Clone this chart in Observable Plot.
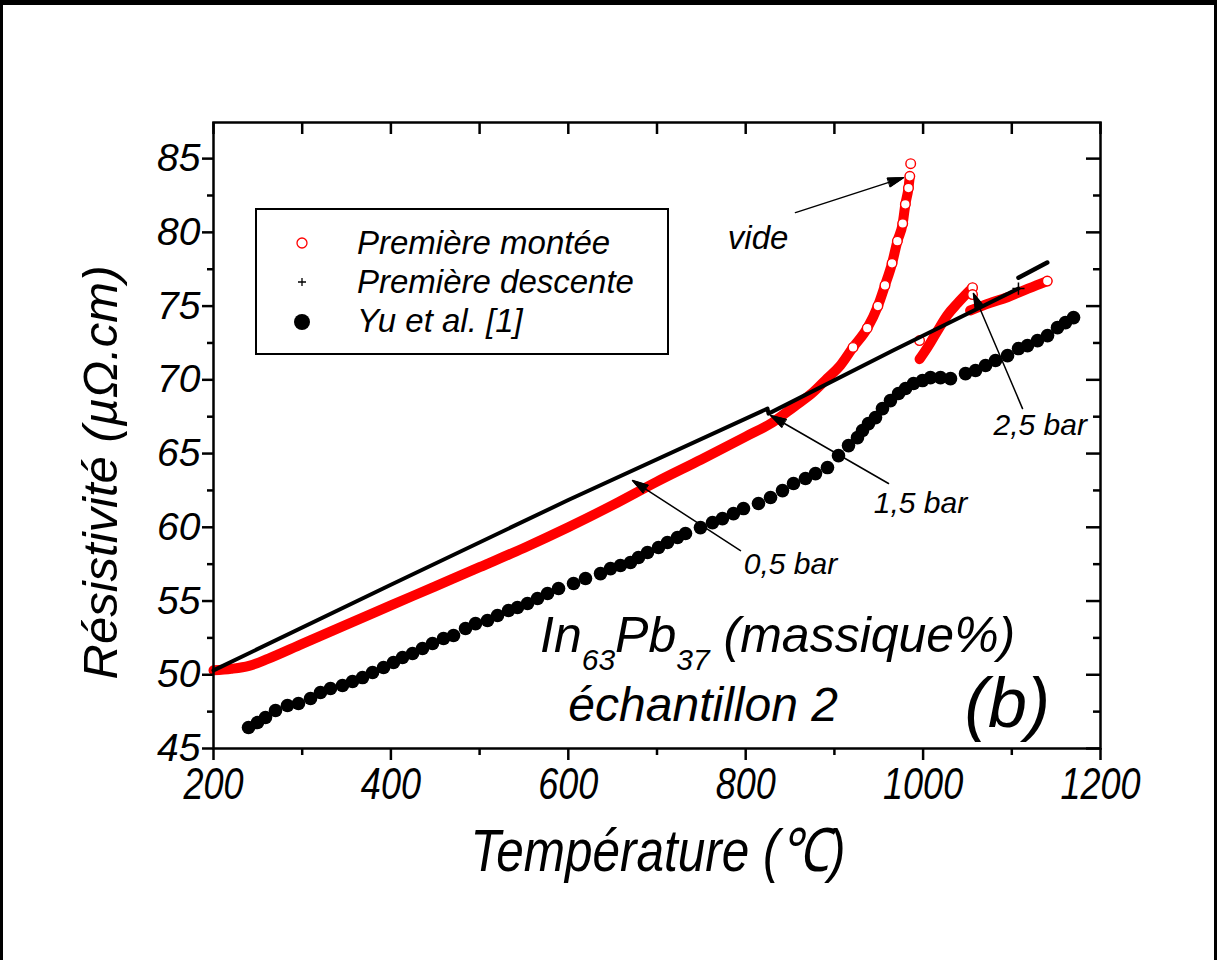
<!DOCTYPE html>
<html><head><meta charset="utf-8">
<script src="https://cdn.jsdelivr.net/npm/d3@7"></script>
<script src="https://cdn.jsdelivr.net/npm/@observablehq/plot@0.6"></script>
<style>
html,body{margin:0;padding:0;background:#fff;}
#wrap{position:relative;width:1217px;height:960px;overflow:hidden;background:#fff;}
#chart svg{display:block;}
#border{position:absolute;left:0;top:0;width:1217px;height:960px;box-sizing:border-box;border-top:5px solid #000;border-left:3px solid #000;border-right:3px solid #000;pointer-events:none;}
#legend{position:absolute;left:255px;top:208px;width:414px;height:147px;box-sizing:border-box;border:2px solid #000;background:#fff;}
</style></head><body>
<div id="wrap"><div id="chart"></div><div id="legend"></div><div id="border"></div></div>
<script>
// ---- data (Température °C, Résistivité µΩ.cm) ----
const seriesNames = ["Première montée", "Première descente", "Yu et al. [1]"];

// Première montée : three branches (0.5 bar -> vide, 1.5 bar, 2.5 bar)
const monteeBranch1 = [[200,50.3],[220,50.4],[240,50.6],[262,51.1],[300,52.1],[350,53.4],[400,54.7],[450,56.0],[500,57.3],[550,58.6],[600,60.0],[650,61.5],[700,63.1],[750,64.6],[800,66.15],[830,67.1],[855,68.2],[875,69.1],[892,70.1],[907,71.0],[921,72.2],[937,73.5],[949,75.0],[957,76.4],[965,77.9],[971,79.4],[977,80.6],[980,81.9],[983.5,83.0],[985,83.8]];
const monteeBranch2 = [[996,71.4],[1005,72.2],[1016,73.3],[1027.5,74.4],[1039,75.2],[1050,75.9],[1055.7,76.25]];
const monteeBranch3 = [[1053,74.7],[1075,75.2],[1095,75.6],[1115,76.1],[1132,76.5],[1140,76.7]];
const monteeRings = [[921,72.2],[937,73.5],[949,75.0],[957,76.4],[965,77.9],[971,79.4],[977,80.6],[980,81.9],[983.5,83.0],[985,83.8],[986,84.66],[996,72.66],[1055.7,76.25],[1055.7,75.78],[1140,76.7]];

// Première descente
const descente = [[200,50.3],[400,56.1],[600,61.85],[824.6,68.05],[825.7,67.71],[966.6,72.0],[1107.5,76.19]];
const descenteDash = [[1107.5,76.93],[1140,77.95]];

// Yu et al. [1]
const yuT = [239.5,249.6,258.6,269.9,283.4,295.8,309.4,320.6,331.9,345.4,356.7,368.0,379.3,391.7,402.9,413.1,424.4,435.6,446.9,459.3,470.6,484.1,495.4,508.9,520.2,532.6,542.7,554.0,565.3,576.6,589.0,605.9,619.4,636.3,647.6,658.8,670.1,679.1,689.3,701.7,711.8,723.1,732.1,749.0,762.6,773.8,786.2,797.5,814.4,828.0,841.5,853.9,867.4,878.7,892.2,904.6,915.9,926.0,931.7,938.4,946.3,954.2,963.2,972.3,980.2,989.2,999.3,1008.3,1019.6,1030.9,1047.8,1059.1,1070.4,1081.6,1095.2,1107.6,1117.7,1129.0,1140.3,1151.5,1160.5,1169.6];
const yuR = [46.42,46.76,47.10,47.58,47.92,48.05,48.39,48.80,49.07,49.27,49.54,49.81,50.15,50.49,50.83,51.17,51.44,51.78,52.12,52.46,52.66,53.14,53.47,53.68,54.02,54.36,54.56,54.83,55.17,55.51,55.85,56.19,56.53,56.86,57.20,57.41,57.61,57.95,58.29,58.63,58.97,59.31,59.58,59.98,60.32,60.59,60.93,61.27,61.61,62.02,62.49,62.97,63.31,63.64,64.05,64.86,65.54,66.08,66.56,67.03,67.44,68.05,68.59,69.07,69.41,69.75,69.95,70.15,70.15,70.08,70.42,70.63,70.97,71.31,71.64,72.12,72.32,72.66,73.0,73.54,73.88,74.22];

// annotations
const arrowStart = [[856.1,81.34],[1112.1,68.05],[961.0,62.97],[794.1,58.42]];
const arrowEnd   = [[977.9,83.71],[1056.8,75.85],[828.0,67.58],[672.4,63.17]];
const annotText  = ["vide","2,5 bar","1,5 bar","0,5 bar"];
const annotSize  = [33,30,30,30];
const annotPos   = [[814,79.6],[1132,66.9],[997,61.6],[850.5,57.5]];
const titleParts = ["In","63","Pb","37"," (massique%)"];
const subtitle = "échantillon 2";
const panelLabel = "(b)";

// axes
const xMajor = [200,400,600,800,1000,1200];
const xMinor = [300,500,700,900,1100];
const xAll = [200,300,400,500,600,700,800,900,1000,1100,1200];
const yMajor = [45,50,55,60,65,70,75,80,85];
const yMinor = [47.5,52.5,57.5,62.5,67.5,72.5,77.5,82.5,87.5];
const xLabel = "Température (℃)";
const yLabel = "Résistivité (µΩ.cm)";

// ---- build ----
const W = 1217, H = 960, mL = 213, mR = 117, mT = 122, mB = 212;
const fw = W - mL - mR, fh = H - mT - mB;
const font = '"Liberation Sans", Arial, sans-serif';
const yu = yuT.map((t, i) => [t, yuR[i]]);
const arrows = arrowStart.map((s, i) => ({x1: s[0], y1: s[1], x2: arrowEnd[i][0], y2: arrowEnd[i][1]}));
const annots = annotText.map((t, i) => ({text: t, x: annotPos[i][0], y: annotPos[i][1], s: annotSize[i]}));
const X = d => d[0], Y = d => d[1];
const red = "#ff0000";
const yMin = yMinor.filter(v => v < 87.45);

const plot = Plot.plot({
  width: W, height: H,
  marginLeft: mL, marginRight: mR, marginTop: mT, marginBottom: mB,
  style: {fontFamily: font, background: "white", overflow: "visible"},
  x: {domain: [200, 1200]},
  y: {domain: [45, 87.45]},
  marks: [
    // red "Première montée"
    Plot.line(monteeBranch1, {x: X, y: Y, stroke: red, strokeWidth: 10, curve: "monotone-x"}),
    Plot.line(monteeBranch2, {x: X, y: Y, stroke: red, strokeWidth: 10, curve: "monotone-x"}),
    Plot.line(monteeBranch3, {x: X, y: Y, stroke: red, strokeWidth: 10, curve: "monotone-x"}),
    Plot.dot(monteeRings, {x: X, y: Y, r: 4.8, fill: "white", stroke: red, strokeWidth: 1.4}),
    // black "Première descente"
    Plot.line(descente, {x: X, y: Y, stroke: "black", strokeWidth: 4}),
    Plot.line(descenteDash, {x: X, y: Y, stroke: "black", strokeWidth: 4.5}),
    Plot.dot([descente[descente.length - 1]], {x: X, y: Y, symbol: "plus", r: 4, stroke: "black", strokeWidth: 1.5}),
    // Yu et al.
    Plot.dot(yu, {x: X, y: Y, r: 6.8, fill: "black"}),
    // annotation arrows
    Plot.arrow(arrows, {x1: "x1", y1: "y1", x2: "x2", y2: "y2", stroke: "black", strokeWidth: 1.5, headLength: 16, headAngle: 32}),
    Plot.text(annots, {x: "x", y: "y", text: "text", fontSize: "s", fontStyle: "italic", fill: "black"}),
    Plot.text([titleParts.join("")], {x: () => 836, y: () => 52.6, text: d => d, fontSize: 50, fontStyle: "italic", fill: "black"}),
    Plot.text([subtitle], {x: () => 752, y: () => 47.9, text: d => d, fontSize: 48, fontStyle: "italic", fill: "black"}),
    Plot.text([panelLabel], {x: () => 1095, y: () => 48.0, text: d => d, fontSize: 70, fontStyle: "italic", fill: "black"}),
    // axes
    Plot.axisY({ticks: yMin, tickSize: 6, strokeWidth: 2.5, tickFormat: () => "", label: null}),
    Plot.axisY({ticks: yMajor, tickSize: 11, tickPadding: 2, strokeWidth: 2.5, tickFormat: d => String(d), fontSize: 39, fontStyle: "italic", label: null, fill: "black"}),
    Plot.axisX({ticks: xMinor, tickSize: 7, strokeWidth: 2.5, tickFormat: () => "", label: null}),
    Plot.axisX({ticks: xMajor, tickSize: 12, tickPadding: 7, strokeWidth: 2.5, tickFormat: d => String(d), fontSize: 45, fontStyle: "italic", label: null, fill: "black"}),
    Plot.tickX(xAll, {x: d => d, insetBottom: fh - 12, strokeWidth: 2.5}),
    Plot.tickY(yMajor, {y: d => d, insetLeft: fw - 14, strokeWidth: 2.5}),
    Plot.tickY(yMin, {y: d => d, insetLeft: fw - 7, strokeWidth: 2.5}),
    Plot.frame({stroke: "black", strokeWidth: 2.5}),
    Plot.text([xLabel], {frameAnchor: "bottom", textAnchor: "middle", dx: 1, dy: 122, text: d => d, fontSize: 60, fontStyle: "italic", fill: "black"}),
    Plot.text([yLabel], {frameAnchor: "left", textAnchor: "middle", rotate: -90, dx: -112, dy: 37, text: d => d, fontSize: 49, fontStyle: "italic", fill: "black"})
  ]
});
document.getElementById("chart").appendChild(plot);
const svg = d3.select(plot);

// condensed x-axis texts (as in the reference)
svg.selectAll('g[aria-label="x-axis tick label"] text').each(function () {
  const len = this.getComputedTextLength();
  if (len > 0) d3.select(this).attr("textLength", len * 0.8).attr("lengthAdjust", "spacingAndGlyphs");
});
svg.selectAll("text").filter(function () { return this.textContent === xLabel; })
  .attr("textLength", 375).attr("lengthAdjust", "spacingAndGlyphs");

// filled arrowheads
svg.selectAll('g[aria-label="arrow"] path').each(function () {
  const n = (this.getAttribute("d").match(/-?\d*\.?\d+(e-?\d+)?/g) || []).map(Number);
  if (n.length >= 10) {
    d3.select(this.parentNode).append("path")
      .attr("d", `M${n[4]},${n[5]}L${n[6]},${n[7]}L${n[8]},${n[9]}Z`)
      .attr("fill", "black").attr("stroke", "black").attr("stroke-width", 1);
  }
});

// subscripts in the alloy label
svg.selectAll("text").filter(function () { return this.textContent === titleParts.join(""); })
  .each(function () {
    const t = d3.select(this);
    t.text(null);
    t.append("tspan").text(titleParts[0]);
    t.append("tspan").attr("font-size", "0.6em").attr("dy", 18).text(titleParts[1]);
    t.append("tspan").attr("dy", -18).text(titleParts[2]);
    t.append("tspan").attr("font-size", "0.6em").attr("dy", 18).text(titleParts[3]);
    t.append("tspan").attr("dy", -18).text(titleParts[4]);
  });

// legend
const lg = d3.select("#legend").append("svg").attr("width", 410).attr("height", 143)
  .style("font-family", font).style("font-style", "italic").style("font-size", "33px");
const rows = [44, 83, 122];
lg.append("circle").attr("cx", 45).attr("cy", 33).attr("r", 5).attr("fill", "white").attr("stroke", red).attr("stroke-width", 1.3);
lg.append("path").attr("d", "M41,72h8M45,68v8").attr("stroke", "black").attr("stroke-width", 1.3);
lg.append("circle").attr("cx", 45).attr("cy", 112).attr("r", 8).attr("fill", "black");
seriesNames.forEach((s, i) => lg.append("text").attr("x", 100).attr("y", rows[i]).attr("fill", "black").text(s));
</script>
</body></html>
